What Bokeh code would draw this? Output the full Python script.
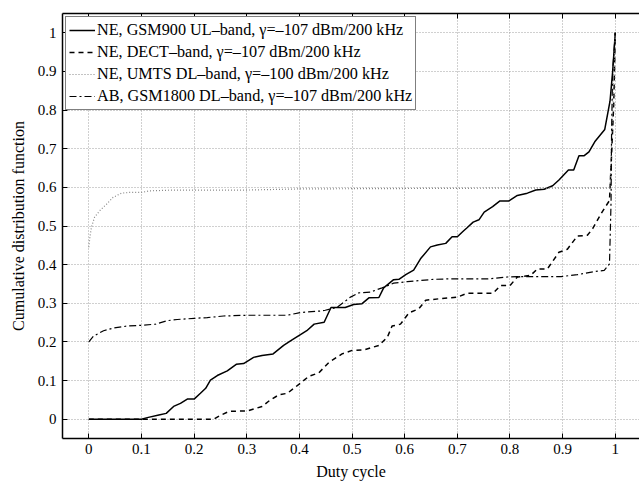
from bokeh.plotting import figure
from bokeh.models import Range1d, FixedTicker, LinearAxis, Legend, LegendItem
from bokeh.embed import file_html
from bokeh.resources import INLINE

# ---- data ----
gsm900_x = [0, 0.1, 0.111, 0.133, 0.147, 0.161, 0.174, 0.187, 0.2, 0.212, 0.222, 0.231, 0.244, 0.263, 0.280,
            0.294, 0.313, 0.329, 0.35, 0.370, 0.386, 0.402, 0.414, 0.428, 0.447, 0.460, 0.487, 0.503, 0.519,
            0.532, 0.551, 0.560, 0.579, 0.589, 0.602, 0.617, 0.630, 0.649, 0.662, 0.678, 0.690, 0.700, 0.710,
            0.719, 0.730, 0.741, 0.751, 0.767, 0.781, 0.798, 0.814, 0.833, 0.849, 0.865, 0.881, 0.893, 0.911,
            0.921, 0.931, 0.941, 0.950, 0.961, 0.980, 0.990, 0.995, 1.0]
gsm900_y = [0, 0, 0.004, 0.011, 0.015, 0.033, 0.041, 0.052, 0.052, 0.067, 0.08, 0.101, 0.113, 0.125, 0.142,
            0.144, 0.16, 0.165, 0.169, 0.191, 0.205, 0.219, 0.229, 0.246, 0.251, 0.289, 0.289, 0.297, 0.299,
            0.314, 0.315, 0.340, 0.361, 0.362, 0.374, 0.386, 0.415, 0.446, 0.451, 0.455, 0.472, 0.472, 0.485,
            0.496, 0.510, 0.516, 0.536, 0.550, 0.565, 0.565, 0.579, 0.585, 0.593, 0.595, 0.604, 0.619, 0.645,
            0.645, 0.682, 0.682, 0.692, 0.718, 0.750, 0.823, 0.90, 1.0]

dect_x = [0, 0.237, 0.25, 0.266, 0.282, 0.301, 0.329, 0.345, 0.361, 0.377, 0.399, 0.418, 0.437, 0.456, 0.481,
          0.5, 0.522, 0.551, 0.567, 0.576, 0.592, 0.608, 0.627, 0.640, 0.668, 0.700, 0.719, 0.768, 0.782, 0.8,
          0.814, 0.839, 0.852, 0.871, 0.893, 0.909, 0.928, 0.947, 0.957, 0.973, 0.989, 0.993, 0.997, 1.0]
dect_y = [0, 0, 0.010, 0.020, 0.021, 0.021, 0.033, 0.050, 0.063, 0.067, 0.090, 0.111, 0.120, 0.147, 0.169,
          0.178, 0.179, 0.191, 0.212, 0.241, 0.246, 0.275, 0.286, 0.308, 0.312, 0.316, 0.326, 0.326, 0.346, 0.346,
          0.368, 0.372, 0.389, 0.389, 0.432, 0.440, 0.474, 0.476, 0.493, 0.532, 0.566, 0.686, 0.814, 1.0]

umts_x = [0, 0.002, 0.005, 0.011, 0.021, 0.034, 0.046, 0.062, 0.078, 0.1, 0.116, 0.16, 0.3, 0.4, 0.6, 0.8, 0.99, 1.0]
umts_y = [0.445, 0.471, 0.497, 0.523, 0.540, 0.557, 0.574, 0.585, 0.587, 0.587, 0.591, 0.593, 0.593, 0.596,
          0.597, 0.598, 0.598, 1.0]

gsm1800_x = [0, 0.009, 0.028, 0.047, 0.073, 0.1, 0.127, 0.149, 0.168, 0.2, 0.225, 0.256, 0.301, 0.377, 0.402,
             0.44, 0.449, 0.471, 0.497, 0.513, 0.535, 0.557, 0.579, 0.605, 0.655, 0.681, 0.757, 0.795, 0.814,
             0.897, 0.928, 0.960, 0.979, 0.989, 0.992, 0.993, 0.995, 1.0]
gsm1800_y = [0.200, 0.215, 0.229, 0.236, 0.241, 0.243, 0.246, 0.255, 0.258, 0.261, 0.263, 0.267, 0.269, 0.269,
             0.276, 0.280, 0.282, 0.289, 0.316, 0.327, 0.329, 0.340, 0.352, 0.356, 0.362, 0.363, 0.363, 0.368,
             0.369, 0.369, 0.374, 0.382, 0.385, 0.402, 0.564, 0.75, 0.9, 1.0]

labels = ["NE, GSM900 UL\u2013band, \u03b3=\u2013107 dBm/200 kHz",
          "NE, DECT\u2013band, \u03b3=\u2013107 dBm/200 kHz",
          "NE, UMTS DL\u2013band, \u03b3=\u2013100 dBm/200 kHz",
          "AB, GSM1800 DL\u2013band, \u03b3=\u2013107 dBm/200 kHz"]

xticks = [0, 0.1, 0.2, 0.3, 0.4, 0.5, 0.6, 0.7, 0.8, 0.9, 1]
yticks = [0, 0.1, 0.2, 0.3, 0.4, 0.5, 0.6, 0.7, 0.8, 0.9, 1]

FONT = "Liberation Serif"

p = figure(width=639, height=486, output_backend="svg", toolbar_location=None,
           x_range=Range1d(-0.05, 1.046), y_range=Range1d(-0.05, 1.05),
           min_border_left=62, min_border_right=0, min_border_top=13, min_border_bottom=48)
p.outline_line_color = None
p.background_fill_color = "white"

for ax in (p.xaxis[0], p.yaxis[0]):
    ax.axis_line_width = 1.5
    ax.axis_line_color = "black"
    ax.major_tick_in = 5
    ax.major_tick_out = 0
    ax.minor_tick_line_color = None
    ax.major_label_text_font = FONT
    ax.major_label_text_font_size = "15px"
    ax.major_label_text_color = "black"
    ax.axis_label_text_font = FONT
    ax.axis_label_text_font_size = "16px"
    ax.axis_label_text_font_style = "normal"
    ax.axis_label_text_color = "black"

p.xaxis.ticker = FixedTicker(ticks=xticks)
p.yaxis.ticker = FixedTicker(ticks=yticks)
p.xaxis.major_label_overrides = {t: ("1" if t == 1 else ("0" if t == 0 else f"{t:g}")) for t in xticks}
p.yaxis.major_label_overrides = {t: ("1" if t == 1 else ("0" if t == 0 else f"{t:g}")) for t in yticks}
p.xaxis.axis_label = "Duty cycle"
p.yaxis.axis_label = "Cumulative distribution function"
p.xaxis.major_label_standoff = 5
p.yaxis.major_label_standoff = 6
p.xaxis.axis_label_standoff = 6
p.yaxis.axis_label_standoff = 8

top = LinearAxis(ticker=FixedTicker(ticks=xticks),
                 major_label_overrides={t: "" for t in xticks},
                 major_label_standoff=0, major_tick_in=5, major_tick_out=0,
                 minor_tick_line_color=None, axis_line_width=1.5)
p.add_layout(top, "above")

p.xgrid.grid_line_color = "#a0a0a0"
p.ygrid.grid_line_color = "#a0a0a0"
p.xgrid.grid_line_dash = "1 2"
p.ygrid.grid_line_dash = "1 2"
p.xgrid.grid_line_width = 1
p.ygrid.grid_line_width = 1

r1 = p.line(gsm900_x, gsm900_y, line_color="black", line_width=1.5)
r2 = p.line(dect_x, dect_y, line_color="black", line_width=1.5, line_dash="5 4")
r3 = p.line(umts_x, umts_y, line_color="#888888", line_width=1.2, line_dash="1 2")
r4 = p.line(gsm1800_x, gsm1800_y, line_color="black", line_width=1.2, line_dash="7 3 2 3")

legend = Legend(items=[LegendItem(label=labels[0], renderers=[r1]),
                       LegendItem(label=labels[1], renderers=[r2]),
                       LegendItem(label=labels[2], renderers=[r3]),
                       LegendItem(label=labels[3], renderers=[r4])],
                location="top_left")
legend.margin = 3
legend.padding = 3
legend.spacing = 2
legend.glyph_width = 26
legend.glyph_height = 20
legend.label_height = 20
legend.label_standoff = 2
legend.label_text_font = FONT
legend.label_text_font_size = "16.2px"
legend.label_text_color = "black"
legend.border_line_color = "black"
legend.border_line_width = 1.5
legend.background_fill_alpha = 1
p.add_layout(legend, "center")

open("out.html", "w").write(file_html(p, INLINE))
